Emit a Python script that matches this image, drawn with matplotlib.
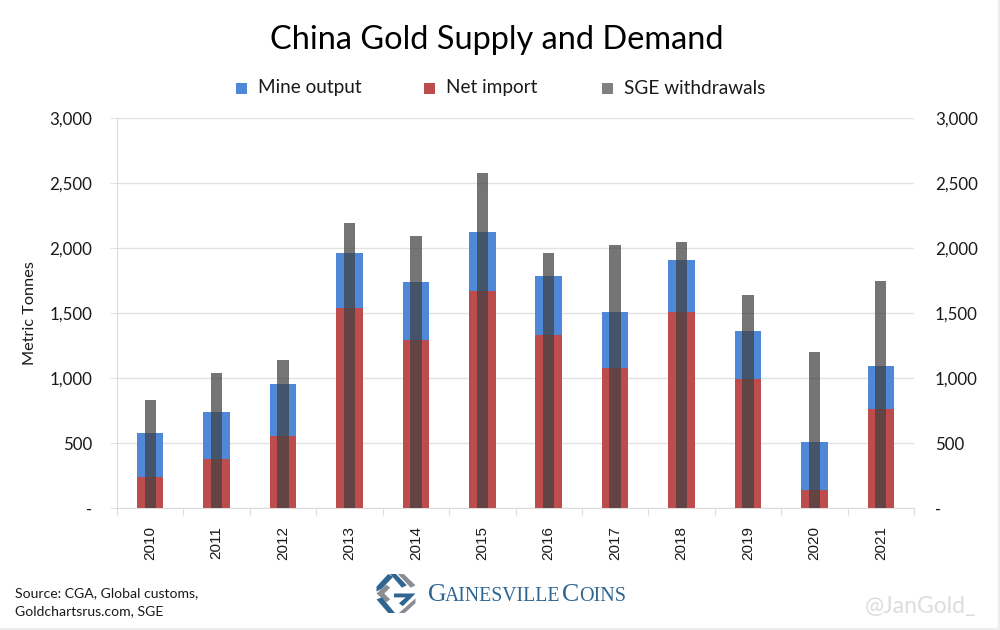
import matplotlib
matplotlib.use("Agg")
import matplotlib.pyplot as plt
from matplotlib.patches import Polygon, Rectangle
from matplotlib.ticker import FuncFormatter

years = ["2010","2011","2012","2013","2014","2015","2016","2017","2018","2019","2020","2021"]
net_import = [235,380,555,1535,1290,1670,1330,1080,1505,990,140,765]
mine_output = [345,360,400,430,450,450,455,425,400,375,365,325]
sge = [830,1040,1135,2195,2095,2575,1965,2025,2045,1640,1200,1750]

RED, BLUE, GREY = '#bd4c4c', '#5088d8', '#808080'
plt.rcParams['font.family'] = ['Lato', 'DejaVu Sans']
fig = plt.figure(figsize=(10, 6.3), dpi=100)
W, H = 1000, 630
ax = fig.add_axes([117/W, 1-508/H, (914-117)/W, (508-118)/H])
x = list(range(len(years)))
ax.bar(x, net_import, width=0.4, color=RED, zorder=2)
ax.bar(x, mine_output, bottom=net_import, width=0.4, color=BLUE, zorder=2)
ax.bar(x, sge, width=0.17, color='#404040', alpha=0.72, zorder=3)
ax.set_xlim(-0.5, 11.5)
ax.set_ylim(0, 3000)
ax.set_yticks(range(0, 3001, 500))
fmt = FuncFormatter(lambda v, p: '-' if v == 0 else f'{int(v):,}')
ax.yaxis.set_major_formatter(fmt)
ax.set_xticks([i - 0.5 for i in x] + [11.5])
ax.set_xticklabels([])
ax.set_xticks(x, minor=True)
ax.set_xticklabels(years, minor=True, rotation=90, fontsize=11, color='#1a1a1a', family='Liberation Sans')
ax.grid(axis='y', color='#e2e2e2', lw=1, zorder=0)
ax.set_axisbelow(True)
for s in ['top', 'right']:
    ax.spines[s].set_visible(False)
ax.spines['left'].set_color('#dcdcdc')
ax.spines['bottom'].set_color('#dcdcdc')
ax.tick_params(axis='x', which='major', length=5, color='#dcdcdc')
ax.tick_params(axis='x', which='minor', length=0, pad=13)
ax.tick_params(axis='y', length=5, color='#e2e2e2', labelsize=12.2, labelcolor='#1a1a1a', pad=13)
ax.set_ylabel('Metric Tonnes', fontsize=11.7, color='#1a1a1a', labelpad=9)

ax2 = ax.twinx()
ax2.set_ylim(0, 3000)
ax2.set_yticks(range(0, 3001, 500))
ax2.yaxis.set_major_formatter(fmt)
ax2.tick_params(axis='y', length=0, labelsize=12.2, labelcolor='#1a1a1a', pad=15)
for s in ax2.spines.values():
    s.set_visible(False)

fig.text(497/W, 1-40/H, 'China Gold Supply and Demand', ha='center', va='center', fontsize=23.4, color='black')

for px, c, label in [(236, BLUE, 'Mine output'), (424, RED, 'Net import'), (602, GREY, 'SGE withdrawals')]:
    fig.add_artist(Rectangle((px/W, 1-94/H), 11/W, 11/H, transform=fig.transFigure, color=c, lw=0))
    fig.text((px+22)/W, 1-88/H, label, ha='left', va='center', fontsize=13.7, color='#1a1a1a')

fig.text(15/W, 1-593/H, 'Source: CGA, Global customs,', ha='left', va='center', fontsize=10.1, color='#1a1a1a')
fig.text(15/W, 1-611/H, 'Goldchartsrus.com, SGE', ha='left', va='center', fontsize=10.1, color='#1a1a1a')
fig.text(976/W, 1-607/H, '@JanGold_', ha='right', va='center', fontsize=16.5, color='#dddddd')

# logo
blue, grey = '#2f6591', '#8a8d94'
cx, cy, r = 396, 593.5, 19.5
def P(pts, c):
    fig.add_artist(Polygon([((cx+a*r)/W, 1-(cy+b*r)/H) for a, b in pts], closed=True, color=c, transform=fig.transFigure, lw=0))
P([(-0.3,-1),(0,-1),(0.55,-0.42),(0.3,-0.3)], blue)
P([(0.1,-1),(0.4,-1),(1,-0.42),(0.75,-0.3)], grey)
P([(-1,-0.35),(-0.4,-1),(-0.15,-0.85),(-0.72,-0.25),(-1,-0.1)], blue)
P([(-1,0.0),(-0.5,-0.45),(-0.3,-0.3),(-0.6,0.0),(-0.3,0.3),(-0.5,0.45)], grey)
P([(-1,0.3),(-0.4,1),(-0.05,1),(-0.72,0.2)], blue)
P([(-0.1,0.0),(1,0.0),(0.35,0.65),(0.15,0.5),(0.5,0.2),(-0.1,0.2)], blue)
P([(1,0.25),(1,0.5),(0.45,1),(0.15,1)], grey)

for s, size, px in [('G',18.6,428),('AINESVILLE',14.2,445),('C',18.6,562),('OINS',14.5,579)]:
    fig.text(px/W, 1-601/H, s, ha='left', va='baseline', fontsize=size, color=blue, family='Liberation Serif')

fig.add_artist(Rectangle((0, 0), 1, 2/H, transform=fig.transFigure, color='#ededed'))
fig.add_artist(Rectangle((1-2/W, 0), 2/W, 1, transform=fig.transFigure, color='#ededed'))
fig.savefig('out.png', dpi=100)
